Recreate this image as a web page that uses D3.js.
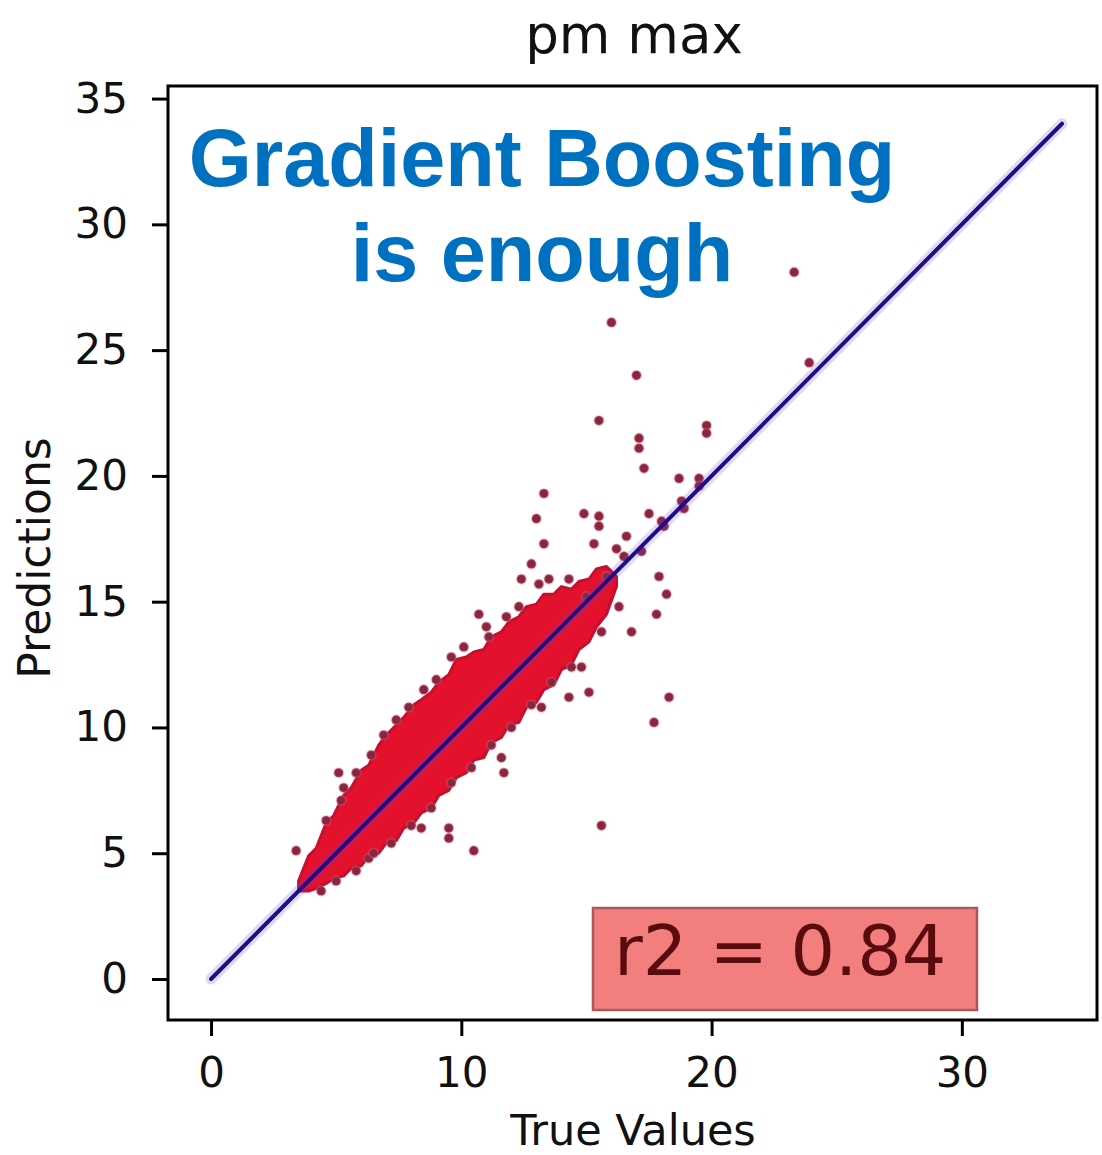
<!DOCTYPE html>
<html>
<head>
<meta charset="utf-8">
<script src="https://cdn.jsdelivr.net/npm/d3@7"></script>
<style>
  body { margin: 0; background: #ffffff; }
  svg { display: block; }
</style>
</head>
<body>
<svg id="chart" width="1102" height="1155"></svg>
<script>
// ---- data ----
const chartTitle = "pm max";
const xLabel = "True Values";
const yLabel = "Predictions";
const headline = ["Gradient Boosting", "is enough"];
const r2Text = "r2 = 0.84";

const xTicks = [0, 10, 20, 30];
const yTicks = [0, 5, 10, 15, 20, 25, 30, 35];

// dense core of the prediction cloud: lower / upper prediction per true value
const bandX    = [3.5, 3.9, 4.2, 4.6, 4.9, 5.3, 5.6, 6.0, 6.3, 6.7, 7.0, 7.4, 7.7, 8.1, 8.4, 8.8, 9.1, 9.5, 9.8, 10.2, 10.5, 10.9, 11.2, 11.6, 11.9, 12.3, 12.6, 13.0, 13.3, 13.7, 14.0, 14.4, 14.7, 15.1, 15.4, 15.8, 16.2];
const bandLow  = [3.5, 3.5, 3.6, 3.8, 4.0, 4.1, 4.4, 4.5, 4.9, 5.0, 5.4, 5.5, 6.0, 6.2, 6.6, 6.8, 7.3, 7.5, 8.0, 8.2, 8.7, 8.8, 9.4, 9.6, 10.1, 10.2, 10.8, 11.0, 11.5, 11.7, 12.3, 12.5, 13.1, 13.4, 14.0, 14.5, 15.6];
const bandHigh = [3.9, 4.9, 5.2, 6.2, 6.5, 7.3, 7.6, 8.3, 8.5, 9.3, 9.7, 10.1, 10.4, 10.9, 11.1, 11.4, 11.8, 12.1, 12.7, 12.8, 13.0, 13.1, 13.6, 13.8, 14.2, 14.4, 14.8, 14.9, 15.3, 15.3, 15.6, 15.5, 15.8, 15.9, 16.3, 16.4, 16.0];

// individual predictions outside the core
const trueVals = [
  23.3, 16.0, 17.0, 15.5, 19.8, 19.8, 17.1, 17.1, 17.3, 18.7, 19.5, 18.9, 18.1, 17.5, 16.6, 15.3,
  14.9, 15.5, 15.5, 13.3, 13.0, 13.3, 12.8, 12.4, 10.7, 11.1, 13.1, 13.5, 14.3, 16.2, 17.9, 18.2,
  17.8, 16.8, 16.3, 15.6, 14.8, 14.3, 15.1, 13.2, 18.3, 17.7, 15.6, 10.5, 11.6, 11.7, 8.4, 9.5,
  9.5, 3.4, 6.3, 5.1, 5.2, 23.9,
  4.6, 5.3, 5.8, 6.4, 6.9, 7.4, 7.9, 8.5, 9.0, 9.6, 10.1, 11.0, 11.8, 12.3,
  4.4, 5.0, 5.8, 6.5, 7.2, 8.0, 8.8, 9.6, 10.4, 11.2, 12.0, 12.8, 13.6, 14.4,
  15.0, 15.8, 16.5, 17.2, 18.0, 18.8, 19.5
];
const predVals = [
  28.1, 26.1, 24.0, 22.2, 22.0, 21.7, 21.5, 21.1, 20.3, 19.9, 19.9, 18.7, 18.0, 18.5, 17.6, 17.3,
  18.5, 18.4, 18.0, 19.3, 18.3, 17.3, 16.5, 15.9, 14.5, 13.6, 15.7, 15.9, 15.9, 17.1, 16.0, 15.3,
  14.5, 13.8, 14.8, 13.8, 12.4, 11.2, 11.4, 10.8, 11.2, 10.2, 6.1, 5.1, 8.8, 8.2, 6.0, 6.0,
  5.6, 5.1, 4.8, 8.2, 7.1, 24.5,
  6.3, 7.6, 8.2, 8.9, 9.7, 10.3, 10.8, 11.5, 11.9, 12.8, 13.2, 14.0, 14.4, 14.8,
  3.5, 3.9, 4.3, 5.0, 5.4, 6.1, 6.8, 7.8, 8.4, 9.3, 10.0, 10.9, 11.8, 12.4,
  15.2, 16.0, 16.8, 17.0, 18.2, 19.0, 19.6
];

// perfect-prediction reference line
const lineEnds = [0, 34];

// ---- layout ----
const svg = d3.select("#chart");
const frame = { left: 168, right: 1097, top: 86, bottom: 1020 };

const x = d3.scaleLinear().domain([-1.72, 35.4]).range([frame.left, frame.right]);
const y = d3.scaleLinear().domain([-1.63, 35.5]).range([frame.bottom, frame.top]);

const font = "'DejaVu Sans', sans-serif";

svg.append("rect").attr("width", 1102).attr("height", 1155).attr("fill", "#ffffff");

svg.append("defs").append("clipPath").attr("id", "plot-clip")
  .append("rect")
  .attr("x", frame.left).attr("y", frame.top)
  .attr("width", frame.right - frame.left).attr("height", frame.bottom - frame.top);

const plot = svg.append("g").attr("clip-path", "url(#plot-clip)");

// dense core
const band = bandX.map((v, i) => ({ x: v, lo: bandLow[i], hi: bandHigh[i] }));
plot.append("path")
  .datum(band)
  .attr("fill", "#e4112c")
  .attr("stroke", "#c40f30")
  .attr("stroke-width", 3)
  .attr("stroke-linejoin", "round")
  .attr("d", d3.area()
    .x(d => x(d.x))
    .y0(d => y(d.lo))
    .y1(d => y(d.hi))
    .curve(d3.curveLinear));

// individual points
const pts = trueVals.map((v, i) => ({ t: v, p: predVals[i] }));
plot.append("g")
  .selectAll("circle")
  .data(pts)
  .join("circle")
  .attr("cx", d => x(d.t))
  .attr("cy", d => y(d.p))
  .attr("r", 4.6)
  .attr("fill", "#86263f")
  .attr("stroke", "#e06a80")
  .attr("stroke-opacity", 0.35)
  .attr("stroke-width", 2);

// identity line with soft halo
plot.append("line")
  .attr("x1", x(lineEnds[0])).attr("y1", y(lineEnds[0]))
  .attr("x2", x(lineEnds[1])).attr("y2", y(lineEnds[1]))
  .attr("stroke", "#6a3ad8")
  .attr("stroke-opacity", 0.2)
  .attr("stroke-width", 11)
  .attr("stroke-linecap", "round");
plot.append("line")
  .attr("x1", x(lineEnds[0])).attr("y1", y(lineEnds[0]))
  .attr("x2", x(lineEnds[1])).attr("y2", y(lineEnds[1]))
  .attr("stroke", "#1f0d84")
  .attr("stroke-width", 4)
  .attr("stroke-linecap", "round");

// axes
const xAxis = d3.axisBottom(x).tickValues(xTicks).tickSize(16).tickPadding(21).tickFormat(d3.format("d"));
const yAxis = d3.axisLeft(y).tickValues(yTicks).tickSize(16).tickPadding(24).tickFormat(d3.format("d"));

const gx = svg.append("g").attr("transform", `translate(0,${frame.bottom})`).call(xAxis);
const gy = svg.append("g").attr("transform", `translate(${frame.left},0)`).call(yAxis);
[gx, gy].forEach(g => {
  g.select(".domain").remove();
  g.selectAll(".tick line").attr("stroke", "#000").attr("stroke-width", 3);
  g.selectAll(".tick text")
    .attr("fill", "#111")
    .style("font-family", font)
    .style("font-size", "42px");
});

// frame
svg.append("rect")
  .attr("x", frame.left).attr("y", frame.top)
  .attr("width", frame.right - frame.left).attr("height", frame.bottom - frame.top)
  .attr("fill", "none")
  .attr("stroke", "#000")
  .attr("stroke-width", 3);

// title and axis labels
svg.append("text")
  .attr("x", 634).attr("y", 53)
  .attr("text-anchor", "middle")
  .attr("fill", "#111")
  .style("font-family", font).style("font-size", "53px")
  .text(chartTitle);

svg.append("text")
  .attr("x", 633).attr("y", 1145)
  .attr("text-anchor", "middle")
  .attr("fill", "#111")
  .style("font-family", font).style("font-size", "43px")
  .text(xLabel);

svg.append("text")
  .attr("transform", "translate(50,558) rotate(-90)")
  .attr("text-anchor", "middle")
  .attr("fill", "#111")
  .style("font-family", font).style("font-size", "44px")
  .text(yLabel);

// headline
svg.append("g")
  .selectAll("text")
  .data(headline)
  .join("text")
  .attr("x", 542)
  .attr("y", (d, i) => 186 + i * 95)
  .attr("text-anchor", "middle")
  .attr("fill", "#0070c0")
  .style("font-family", "'Liberation Sans', Arial, sans-serif")
  .style("font-weight", "bold")
  .style("font-size", "81px")
  .text(d => d);

// r2 annotation
svg.append("rect")
  .attr("x", 593).attr("y", 908)
  .attr("width", 384).attr("height", 102)
  .attr("fill", "#f27f7d")
  .attr("stroke", "#a85a5a")
  .attr("stroke-width", 2.5);
svg.append("text")
  .attr("x", 614).attr("y", 975)
  .attr("fill", "#5a0b0e")
  .style("font-family", font).style("font-size", "70px")
  .text(r2Text);
</script>
</body>
</html>
